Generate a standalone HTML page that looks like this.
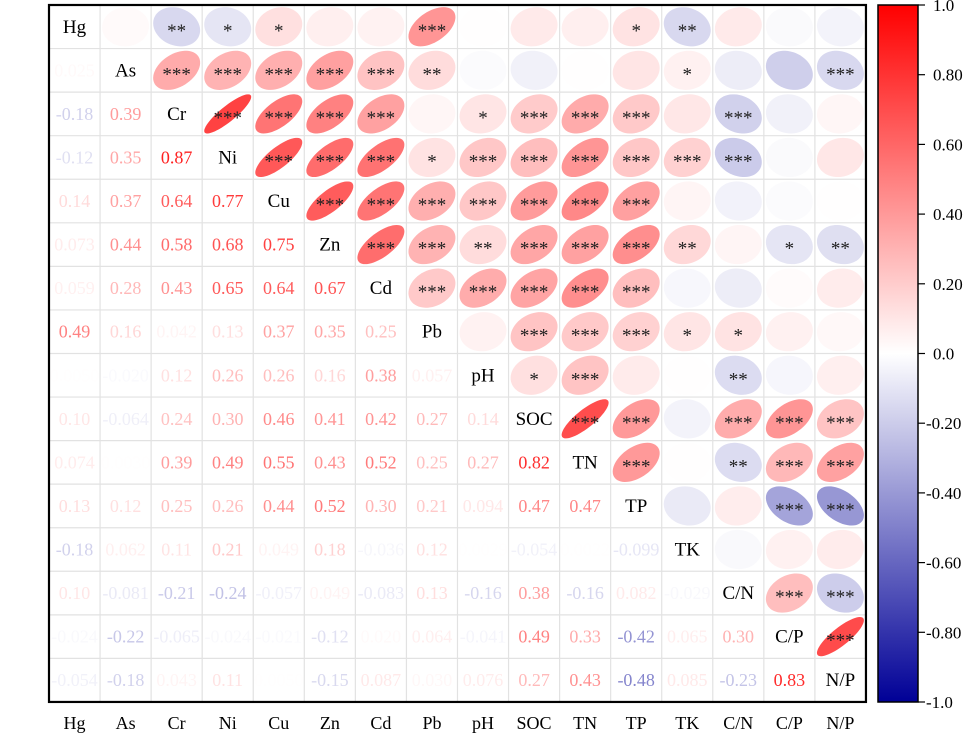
<!DOCTYPE html>
<html><head><meta charset="utf-8"><style>
html,body{margin:0;padding:0;background:#fff;}
svg{display:block;font-family:"Liberation Serif",serif;}
</style></head><body>
<svg id="chart" width="969" height="733"></svg>
<script>
const variables = ["Hg","As","Cr","Ni","Cu","Zn","Cd","Pb","pH","SOC","TN","TP","TK","C/N","C/P","N/P"];
const rLower = [
  [],
  [0.025],
  [-0.18,0.39],
  [-0.12,0.35,0.87],
  [0.14,0.37,0.64,0.77],
  [0.073,0.44,0.58,0.68,0.75],
  [0.059,0.28,0.43,0.65,0.64,0.67],
  [0.49,0.16,0.042,0.13,0.37,0.35,0.25],
  [0.005,-0.020,0.12,0.26,0.26,0.16,0.38,0.057],
  [0.10,-0.064,0.24,0.30,0.46,0.41,0.42,0.27,0.14],
  [0.074,0.003,0.39,0.49,0.55,0.43,0.52,0.25,0.27,0.82],
  [0.13,0.12,0.25,0.26,0.44,0.52,0.30,0.21,0.094,0.47,0.47],
  [-0.18,0.062,0.11,0.21,0.049,0.18,-0.036,0.12,0.0029,-0.054,0.0022,-0.099],
  [0.10,-0.081,-0.21,-0.24,-0.057,0.049,-0.083,0.13,-0.16,0.38,-0.16,0.082,-0.029],
  [-0.024,-0.22,-0.065,-0.024,-0.021,-0.12,0.02,0.064,-0.041,0.49,0.33,-0.42,0.065,0.30],
  [-0.054,-0.18,0.043,0.11,0.005,-0.15,0.087,0.03,0.076,0.27,0.43,-0.48,0.085,-0.23,0.83]
];
const starsUpper = [
  ["","**","*","*","","","***","","","","*","**","","",""],
  ["***","***","***","***","***","**","","","","","*","","","***","**"],
  ["***","***","***","***","","*","***","***","***","","***","",""],
  ["***","***","***","*","***","***","***","***","***","***","",""],
  ["***","***","***","***","***","***","***","","","",""],
  ["***","***","**","***","***","***","**","","*","**"],
  ["***","***","***","***","***","","","",""],
  ["","***","***","***","*","*","",""],
  ["*","***","","","**","",""],
  ["***","***","","***","***","***"],
  ["***","","**","***","***"],
  ["","","***","***"],
  ["","",""],
  ["***","***"],
  ["***"],
  []
];
const colorbarTicks = [1.0,0.8,0.6,0.4,0.2,0.0,-0.2,-0.4,-0.6,-0.8,-1.0];
const colorbarTickLabels = ["1.0","0.80","0.60","0.40","0.20","0.0","-0.20","-0.40","-0.60","-0.80","-1.0"];

const NS="http://www.w3.org/2000/svg";
const svg=document.getElementById('chart');
const X0=49, Y0=5, CW=51.06, CH=43.56, N=variables.length;
const xCenter=j=>X0+CW*(j+0.5);
const yCenter=i=>Y0+CH*(i+0.5);
function color(r){
  r=Math.max(-1,Math.min(1,r));
  let R,G,B;
  if(r>=0){R=255;G=Math.round(255*(1-r));B=G;}
  else{const t=-r;R=Math.round(255*(1-t));G=R;B=Math.round(255-t*(255-150));}
  return `rgb(${R},${G},${B})`;
}
function el(tag,attrs,parent){const e=document.createElementNS(NS,tag);for(const k in attrs)e.setAttribute(k,attrs[k]);(parent||svg).appendChild(e);return e;}
function getR(i,j){return i>j?rLower[i][j]:rLower[j][i];}

const grid=el('g',{});


for(let k=1;k<N;k++){
  el('line',{x1:X0+CW*k,x2:X0+CW*k,y1:Y0,y2:Y0+CH*N,stroke:'#e2e2e2','stroke-width':1.2},grid);
  el('line',{x1:X0,x2:X0+CW*N,y1:Y0+CH*k,y2:Y0+CH*k,stroke:'#e2e2e2','stroke-width':1.2},grid);
}
for(let i=0;i<N;i++){
  for(let j=0;j<N;j++){
    const cx=xCenter(j), cy=yCenter(i);
    if(i===j){
      const t=el('text',{x:cx,y:cy+6,'text-anchor':'middle','font-size':19,fill:'#000'});
      
      
      t.textContent=variables[i];
    } else if(i>j){
      const r=getR(i,j);
      const t=el('text',{x:cx,y:cy+6,'text-anchor':'middle','font-size':18,fill:color(r)});
      
      
      t.textContent=String(Number(r.toPrecision(2)).toFixed(Math.abs(r)>=0.1?2:Math.max(2,-Math.floor(Math.log10(Math.abs(r)))+1)));
    } else {
      const r=getR(i,j);
      const d=Math.acos(r), sx=CW*0.46, sy=CH*0.45;
      let pts=[];
      for(let k=0;k<60;k++){const a=2*Math.PI*k/60;pts.push((cx+sx*Math.cos(a+d/2)).toFixed(2)+','+(cy-sy*Math.cos(a-d/2)).toFixed(2));}
      const p=el('polygon',{points:pts.join(' '),fill:color(r),'fill-opacity':0.85});
      
      
      const s=starsUpper[i][j-i-1];
      if(s){
        const t=el('text',{x:cx,y:cy+10,'text-anchor':'middle','font-size':19,fill:'#222'});
        
        
        t.textContent=s;
      }
    }
  }
}
const border=el('rect',{x:X0,y:Y0,width:CW*N,height:CH*N,fill:'none',stroke:'#000','stroke-width':2.2});


for(let j=0;j<N;j++){
  const t=el('text',{x:xCenter(j),y:729,'text-anchor':'middle','font-size':18,fill:'#000'});
  
  
  t.textContent=variables[j];
}
const defs=el('defs',{});
const lg=el('linearGradient',{id:'cb',x1:0,y1:0,x2:0,y2:1},defs);
for(let k=0;k<=20;k++){const v=1-k/10;el('stop',{offset:(k/20),'stop-color':color(v)},lg);}
const CBX=878, CBY0=5, CBY1=702, CBW=40;
const cb=el('rect',{x:CBX,y:CBY0,width:CBW,height:CBY1-CBY0,fill:'url(#cb)',stroke:'#000','stroke-width':1.5});


const cbY=v=>CBY0+(1-v)/2*(CBY1-CBY0);
colorbarTicks.forEach((v,k)=>{
  const y=cbY(v);
  el('line',{x1:CBX+CBW,x2:CBX+CBW+7,y1:y,y2:y,stroke:'#000','stroke-width':1.2});
  const t=el('text',{x:CBX+CBW+(v<0?8:15),y:y+6,'font-size':17,fill:'#000'});
  
  
  t.textContent=colorbarTickLabels[k];
});
</script>
</body></html>
